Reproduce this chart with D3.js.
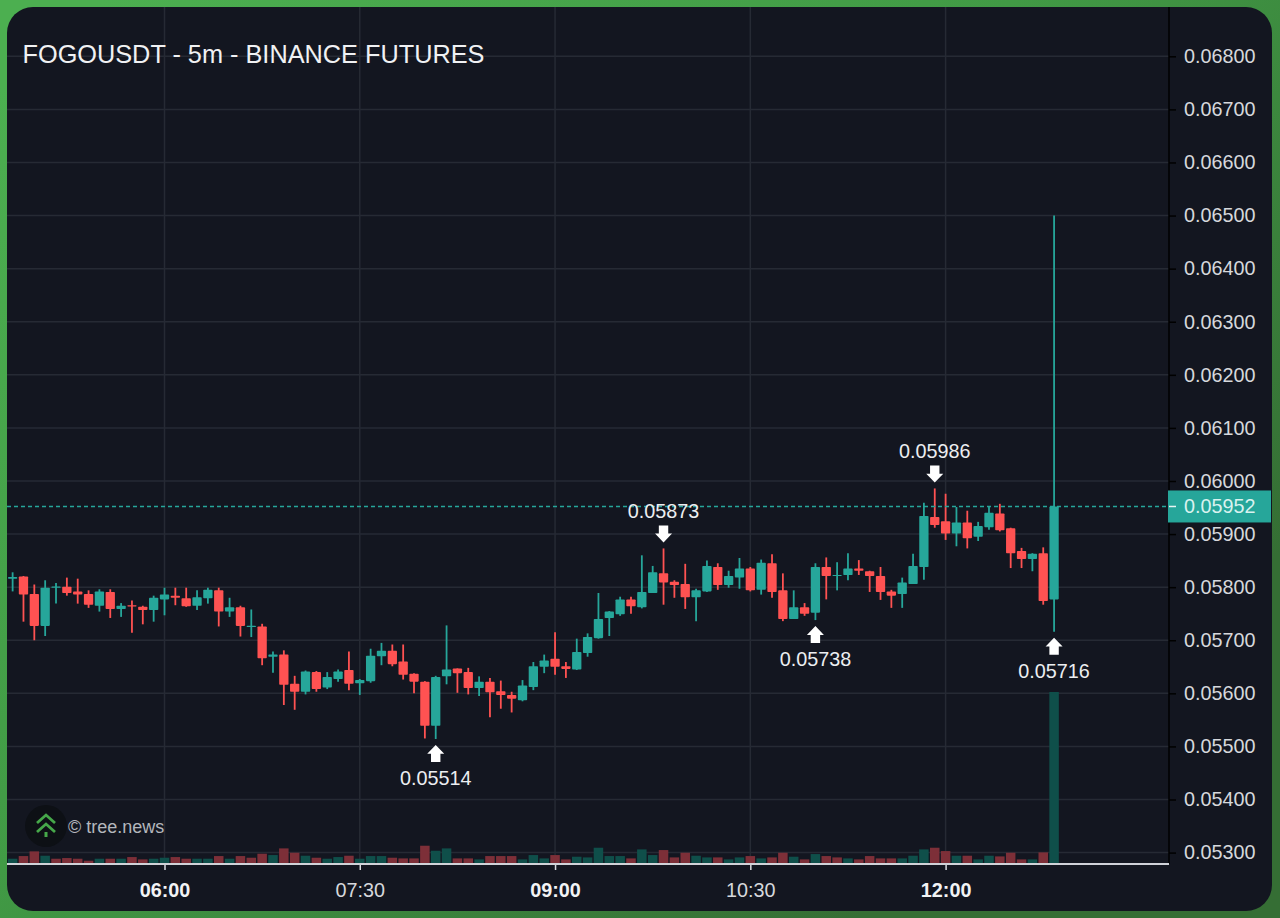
<!DOCTYPE html>
<html><head><meta charset="utf-8">
<style>html,body{margin:0;padding:0;background:#3f8f42;overflow:hidden}svg{display:block}text{font-family:"Liberation Sans",Arial,sans-serif}</style>
<script src="https://cdn.jsdelivr.net/npm/d3@7/dist/d3.min.js"></script>
</head><body>
<script>
const titleText = "FOGOUSDT - 5m - BINANCE FUTURES";
const firstBarTime = "04:50";
const barMinutes = 5;
const opens = [.05816,.05820,.05787,.05727,.05800,.05801,.05792,.05787,.05765,.05791,.05759,.05766,.05763,.05757,.05777,.05784,.05779,.05765,.05779,.05794,.05754,.05762,.05726,.05726,.05669,.05673,.05618,.05603,.05640,.05611,.05627,.05644,.05619,.05623,.05670,.05680,.05660,.05637,.05622,.05539,.05632,.05647,.05640,.05610,.05622,.05604,.05597,.05587,.05612,.05650,.05665,.05651,.05645,.05676,.05704,.05742,.05749,.05777,.05762,.05789,.05826,.05810,.05806,.05781,.05792,.05838,.05804,.05818,.05835,.05795,.05845,.05794,.05740,.05762,.05752,.05838,.05822,.05823,.05835,.05830,.05821,.05792,.05787,.05806,.05838,.05932,.05924,.05901,.05922,.05895,.05913,.05939,.05911,.05868,.05853,.05864,.05777];
const highs = [.05828,.05821,.05805,.05813,.05808,.05818,.05816,.05794,.05796,.05796,.05770,.05775,.05765,.05784,.05799,.05799,.05799,.05794,.05799,.05799,.05780,.05765,.05758,.05731,.05679,.05681,.05633,.05643,.05642,.05640,.05645,.05679,.05627,.05684,.05695,.05692,.05692,.05638,.05623,.05633,.05728,.05647,.05648,.05632,.05629,.05624,.05603,.05625,.05659,.05673,.05715,.05659,.05703,.05713,.05789,.05755,.05782,.05782,.05860,.05840,.05873,.05813,.05844,.05797,.05850,.05845,.05831,.05855,.05838,.05852,.05862,.05826,.05794,.05770,.05845,.05856,.05847,.05864,.05851,.05831,.05838,.05795,.05818,.05863,.05959,.05986,.05976,.05951,.05944,.05923,.05953,.05957,.05912,.05874,.05864,.05875,.06500];
const lows = [.05792,.05735,.05700,.05708,.05769,.05784,.05769,.05761,.05754,.05742,.05744,.05714,.05730,.05735,.05747,.05766,.05763,.05757,.05769,.05726,.05744,.05707,.05706,.05653,.05639,.05578,.05569,.05598,.05603,.05608,.05622,.05606,.05597,.05620,.05653,.05651,.05626,.05600,.05515,.05514,.05617,.05601,.05598,.05595,.05555,.05571,.05564,.05585,.05606,.05638,.05635,.05629,.05644,.05669,.05703,.05708,.05746,.05750,.05760,.05789,.05767,.05780,.05759,.05736,.05791,.05795,.05799,.05797,.05792,.05786,.05780,.05736,.05740,.05746,.05738,.05777,.05794,.05813,.05823,.05791,.05776,.05761,.05761,.05806,.05814,.05912,.05889,.05877,.05873,.05887,.05908,.05905,.05836,.05836,.05830,.05767,.05716];
const closes = [.05819,.05786,.05727,.05799,.05800,.05789,.05786,.05767,.05792,.05759,.05765,.05764,.05757,.05780,.05786,.05780,.05764,.05781,.05795,.05754,.05762,.05727,.05726,.05666,.05673,.05616,.05603,.05641,.05608,.05631,.05641,.05618,.05625,.05671,.05680,.05655,.05635,.05622,.05539,.05631,.05645,.05638,.05610,.05622,.05602,.05597,.05590,.05615,.05651,.05662,.05650,.05646,.05678,.05706,.05740,.05754,.05777,.05764,.05791,.05828,.05809,.05804,.05781,.05794,.05840,.05804,.05821,.05835,.05794,.05846,.05791,.05740,.05762,.05750,.05838,.05821,.05822,.05835,.05831,.05821,.05791,.05784,.05809,.05840,.05934,.05917,.05901,.05922,.05892,.05915,.05940,.05907,.05864,.05853,.05863,.05774,.05952];
const volumes = [14,22,36,23,14,16,14,8,14,14,14,19,12,14,17,19,14,14,14,22,14,22,17,29,25,45,32,23,17,14,19,23,14,22,22,17,15,15,53,38,45,15,15,12,22,22,22,12,25,15,25,12,20,18,47,22,22,15,42,25,40,18,32,23,18,18,12,18,22,15,18,32,20,12,28,22,18,15,12,22,15,15,15,23,42,47,37,23,23,12,23,21,32,12,12,33,514];
const priceTicks = [.053,.054,.055,.056,.057,.058,.059,.060,.061,.062,.063,.064,.065,.066,.067,.068];
const timeTicks = ["06:00","07:30","09:00","10:30","12:00"];
const boldTimes = ["06:00","09:00","12:00"];
const lastPrice = .05952;
const extremes = [
  {time:"08:05", price:.05514, label:"0.05514", dir:"low"},
  {time:"09:50", price:.05873, label:"0.05873", dir:"high"},
  {time:"11:00", price:.05738, label:"0.05738", dir:"low"},
  {time:"11:55", price:.05986, label:"0.05986", dir:"high"},
  {time:"12:50", price:.05716, label:"0.05716", dir:"low"}
];

const W = 1280, H = 918;
const UP = "#26a69a", DOWN = "#ff5252";
const panel = {x:7, y:7, w:1265, h:904, r:26};
const axisX = 1169, axisY = 864;
const FS = 19.8;

const parseM = s => { const [h,m] = s.split(":").map(Number); return h*60+m; };
const toDate = m => new Date(Date.UTC(2025,0,1,0,m));
const x = d3.scaleUtc().domain([toDate(parseM("06:00")), toDate(parseM("12:00"))]).range([164.5,945.6]);
const y = d3.scaleLinear().domain([.053,.068]).range([852.6,56.3]);
const v = d3.scaleLinear().domain([0,514]).range([863.4,692]);

const bars = opens.map((o,i)=>({t:toDate(parseM(firstBarTime)+i*barMinutes),o,h:highs[i],l:lows[i],c:closes[i],vol:volumes[i]}));

const svg = d3.select("body").append("svg").attr("width",W).attr("height",H);
const defs = svg.append("defs");
const g = defs.append("linearGradient").attr("id","bg").attr("x1","0.08").attr("y1","0").attr("x2","0.92").attr("y2","0.7");
g.append("stop").attr("offset","0").attr("stop-color","#4caf50");
g.append("stop").attr("offset","0.5").attr("stop-color","#419a45");
g.append("stop").attr("offset","1").attr("stop-color","#356e34");
defs.append("clipPath").attr("id","pane").append("rect").attr("x",panel.x).attr("y",panel.y).attr("width",axisX-panel.x).attr("height",axisY-panel.y);

svg.append("rect").attr("width",W).attr("height",H).attr("fill","url(#bg)");
svg.append("rect").attr("x",panel.x).attr("y",panel.y).attr("width",panel.w).attr("height",panel.h).attr("rx",panel.r).attr("fill","#131620");

const pane = svg.append("g").attr("clip-path","url(#pane)");
// grid
pane.append("g").selectAll("line").data(priceTicks).join("line")
  .attr("x1",panel.x).attr("x2",axisX).attr("y1",d=>y(d)).attr("y2",d=>y(d)).attr("stroke","#262a34").attr("stroke-width",1.5);
pane.append("g").selectAll("line").data(timeTicks).join("line")
  .attr("x1",d=>x(toDate(parseM(d)))).attr("x2",d=>x(toDate(parseM(d)))).attr("y1",panel.y).attr("y2",axisY).attr("stroke","#262a34").attr("stroke-width",1.5);

// volume
const bw = 9.3;
pane.append("g").selectAll("rect").data(bars).join("rect")
  .attr("x",d=>x(d.t)-bw/2-0.1).attr("width",bw+0.2).attr("y",d=>v(d.vol)).attr("height",d=>v(0)-v(d.vol))
  .attr("fill",d=>d.c>d.o?"#0f4f4a":"#7d2f38");

// candles
const c = pane.append("g").selectAll("g").data(bars).join("g");
c.append("line").attr("x1",d=>x(d.t)).attr("x2",d=>x(d.t)).attr("y1",d=>y(d.h)).attr("y2",d=>y(d.l))
  .attr("stroke",d=>d.c>=d.o?UP:DOWN).attr("stroke-width",1.8);
c.append("rect").attr("x",d=>x(d.t)-bw/2).attr("width",bw)
  .attr("y",d=>d.o===d.c?y(d.o)-0.6:y(Math.max(d.o,d.c)))
  .attr("height",d=>d.o===d.c?1.2:Math.max(1.2,Math.abs(y(d.o)-y(d.c))))
  .attr("rx",0.8).attr("fill",d=>d.c>=d.o?UP:DOWN);

// last price line
pane.append("line").attr("x1",panel.x).attr("x2",axisX).attr("y1",y(lastPrice)).attr("y2",y(lastPrice))
  .attr("stroke",UP).attr("stroke-width",1.6).attr("stroke-dasharray","4 3");

// axes
const yAxis = svg.append("g").attr("transform",`translate(${axisX},0)`)
  .call(d3.axisRight(y).tickValues(priceTicks).tickFormat(d3.format(".5f")).tickSize(7).tickPadding(8));
yAxis.select(".domain").remove();
yAxis.selectAll("line").attr("stroke","#000").attr("stroke-width",1.5);
yAxis.selectAll("text").attr("font-size",FS).attr("fill","#d6d8dc").attr("font-family","Liberation Sans");
svg.append("line").attr("x1",axisX).attr("x2",axisX).attr("y1",panel.y).attr("y2",axisY).attr("stroke","#000").attr("stroke-width",1.5);

// last price tag
const tagG = svg.append("g");
tagG.append("rect").attr("x",1168).attr("y",y(lastPrice)-16).attr("width",103).attr("height",32).attr("fill",UP);
tagG.append("line").attr("x1",1169).attr("x2",1176).attr("y1",y(lastPrice)).attr("y2",y(lastPrice)).attr("stroke","#e8f5f3").attr("stroke-width",1.5);
tagG.append("text").attr("x",1184).attr("y",y(lastPrice)).attr("dy","0.35em").attr("font-size",FS).attr("fill","#d9f2ef").text(d3.format(".5f")(lastPrice));

const xAxis = svg.append("g").attr("transform",`translate(0,${axisY})`)
  .call(d3.axisBottom(x).tickValues(timeTicks.map(t=>toDate(parseM(t)))).tickFormat(d3.utcFormat("%H:%M")).tickSize(6).tickPadding(13));
xAxis.select(".domain").remove();
xAxis.selectAll("line").attr("stroke","#d9dbe0").attr("stroke-width",1.5);
xAxis.selectAll("text").attr("font-size",FS).attr("fill",d=>boldTimes.includes(d3.utcFormat("%H:%M")(d))?"#f2f3f5":"#d6d8dc")
  .attr("font-weight",d=>boldTimes.includes(d3.utcFormat("%H:%M")(d))?"700":"400");
svg.append("line").attr("x1",panel.x).attr("x2",axisX).attr("y1",axisY).attr("y2",axisY).attr("stroke","#d0d2d8").attr("stroke-width",1.8);

// extremes
const arrowUp = "M0,0 L8.5,8.8 L4.7,8.8 L4.7,17 L-4.7,17 L-4.7,8.8 L-8.5,8.8 Z";
const em = svg.append("g").selectAll("g").data(extremes).join("g")
  .attr("transform",d=>{
    const px = x(toDate(parseM(d.time)));
    return `translate(${px},${y(d.price)})`;
  });
em.append("path").attr("d",arrowUp).attr("fill","#fff")
  .attr("transform",d=>d.dir==="low"?"translate(0,6)":"translate(0,-6) scale(1,-1)");
em.append("text").attr("text-anchor","middle").attr("font-size",FS).attr("fill","#eceef1")
  .attr("y",d=>d.dir==="low"?39:-37).attr("dy","0.35em").text(d=>d.label);

// title
svg.append("text").attr("x",22.5).attr("y",63).attr("font-size",25.3).attr("fill","#f0f1f3").text(titleText);

// watermark
const logo = svg.append("g").attr("transform","translate(46,826)");
logo.append("circle").attr("r",21).attr("fill","#0d1015");
logo.append("path").attr("d","M-9,-3 L0,-11 L9,-3 M-9,6 L0,-2 L9,6").attr("fill","none").attr("stroke","#46a84a").attr("stroke-width",2.8);
logo.append("path").attr("d","M0,6 L0,11").attr("fill","none").attr("stroke","#46a84a").attr("stroke-width",3);
svg.append("text").attr("x",68).attr("y",833).attr("font-size",18).attr("fill","#b4b7bd").text("© tree.news");
</script>
</body></html>
